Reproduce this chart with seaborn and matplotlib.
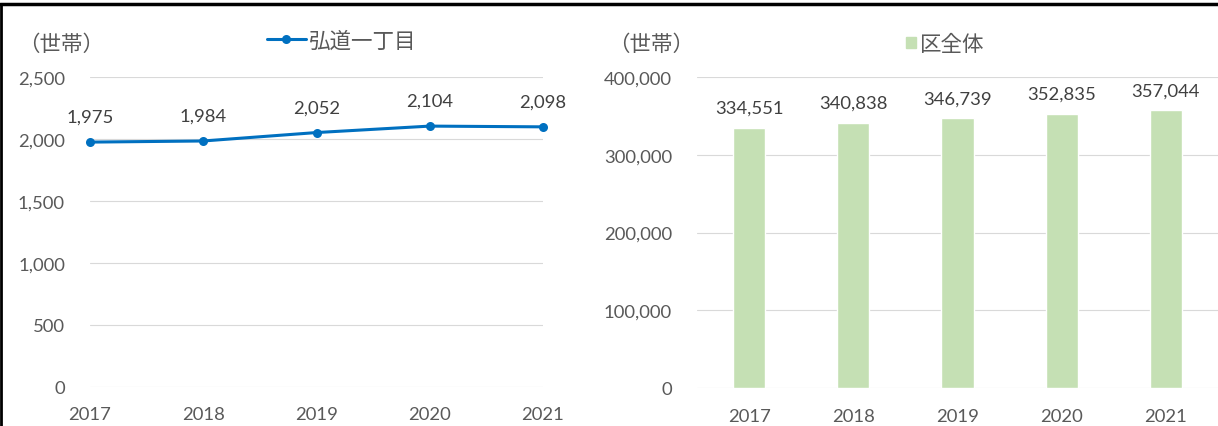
import matplotlib.pyplot as plt
import seaborn as sns
import pandas as pd
from matplotlib.ticker import FuncFormatter
from matplotlib.lines import Line2D
from matplotlib.patches import Patch

# data
years = [2017, 2018, 2019, 2020, 2021]
kodo_households = [1975, 1984, 2052, 2104, 2098]
ward_households = [334551, 340838, 346739, 352835, 357044]
unit_label = '（世帯）'
line_label = '弘道一丁目'
bar_label = '区全体'

sns.set_style('white')
plt.rcParams['font.family'] = ['Lato', 'Noto Sans CJK JP', 'DejaVu Sans']
JP = ['Noto Sans CJK JP', 'DejaVu Sans']

TICK = '#595959'
LABEL = '#404040'
GRID = '#D9D9D9'
BLUE = '#0070C0'
GREEN = '#C5E0B4'
NUM_SIZE = 13.3
JP_SIZE = 15.5

df = pd.DataFrame({'year': years, 'kodo': kodo_households, 'ward': ward_households})

W, H = 1218, 427
fig = plt.figure(figsize=(W / 100, H / 100), dpi=100)
ax1 = fig.add_axes([90 / W, 1 - 388 / H, 453 / W, 310 / H])
ax2 = fig.add_axes([697 / W, 1 - 389 / H, 521 / W, 311 / H])

# left: line chart
sns.lineplot(data=df, x='year', y='kodo', ax=ax1, color=BLUE, lw=2.2,
             marker='o', markersize=6.5, markeredgewidth=0, clip_on=False, zorder=3)
ax1.set_xlim(2017, 2021)
ax1.set_ylim(0, 2500)
ax1.set_xticks(years)
ax1.set_yticks(range(0, 2501, 500))
for x, v in zip(years, kodo_households):
    ax1.annotate(f'{v:,}', (x, v), xytext=(0, 18), textcoords='offset points',
                 ha='center', va='center', fontsize=NUM_SIZE, color=LABEL)

# right: bar chart
sns.barplot(data=df, x='year', y='ward', ax=ax2, color=GREEN, width=0.31,
            saturation=1)
ax2.set_xlim(-0.5, 4.5)
ax2.set_ylim(0, 400000)
ax2.set_yticks(range(0, 400001, 100000))
for i, v in enumerate(ward_households):
    ax2.annotate(f'{v:,}', (i, v), xytext=(0, 14.5), textcoords='offset points',
                 ha='center', va='center', fontsize=NUM_SIZE, color=LABEL)

for ax in (ax1, ax2):
    ax.yaxis.set_major_formatter(FuncFormatter(lambda v, p: f'{v:,.0f}'))
    ax.grid(axis='y', color=GRID, lw=0.8)
    ax.grid(axis='x', visible=False)
    ax.set_axisbelow(True)
    for s in ax.spines.values():
        s.set_visible(False)
    ax.tick_params(length=0, labelsize=NUM_SIZE, labelcolor=TICK)
    ax.tick_params(axis='y', pad=18)
    ax.set_xlabel('')
    ax.set_ylabel('')
ax1.tick_params(axis='x', pad=13.5)
ax2.tick_params(axis='x', pad=14.5)

# legends and unit labels
fig.legend([Line2D([], [], color=BLUE, lw=2.2, marker='o', markersize=6.5, markeredgewidth=0)],
           [line_label], loc='center', bbox_to_anchor=(0.2805, 0.9016), frameon=False,
           prop={'family': JP, 'size': JP_SIZE}, labelcolor=TICK,
           handlelength=1.8, handletextpad=0.15)
fig.legend([Patch(color=GREEN)], [bar_label], loc='center', bbox_to_anchor=(0.776, 0.8946),
           frameon=False, prop={'family': JP, 'size': JP_SIZE}, labelcolor=TICK,
           handlelength=0.45, handleheight=0.45, handletextpad=0.2)
fig.text(18 / W, 1 - 45 / H, unit_label, family=JP, size=JP_SIZE, color=TICK,
         ha='left', va='center')
fig.text(608 / W, 1 - 45 / H, unit_label, family=JP, size=JP_SIZE, color=TICK,
         ha='left', va='center')

# black frame at top and left
fig.add_artist(Line2D([0, 1], [1 - 5 / H] * 2, color='black', lw=2.5, transform=fig.transFigure))
fig.add_artist(Line2D([1.2 / W] * 2, [0, 1 - 5 / H], color='black', lw=2.0, transform=fig.transFigure))

fig.savefig('out.png', dpi=100)
